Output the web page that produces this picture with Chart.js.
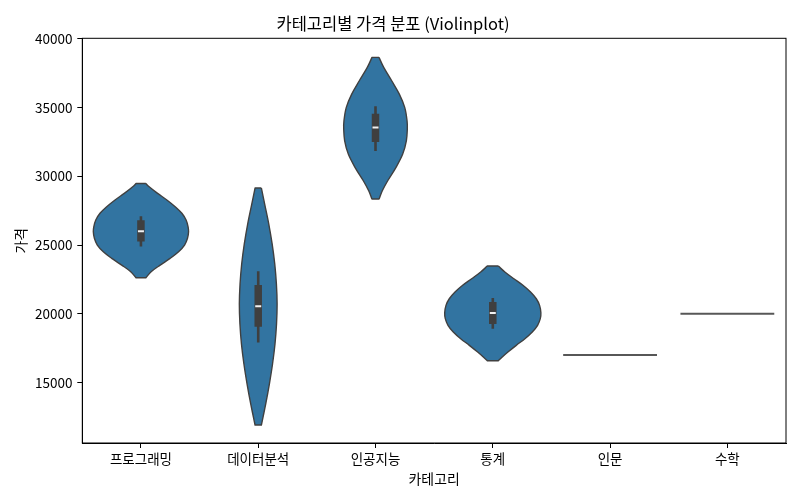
<!DOCTYPE html>
<html>
<head>
<meta charset="utf-8">
<script src="https://cdn.jsdelivr.net/npm/chart.js@4/dist/chart.umd.min.js"></script>
<style>
  html, body { margin: 0; padding: 0; background: #ffffff; }
  #wrap { width: 800px; height: 500px; }
</style>
</head>
<body>
<div id="wrap"><canvas id="c" width="800" height="500"></canvas></div>
<script>
// ---------------- DATA ----------------
const categories = ['프로그래밍', '데이터분석', '인공지능', '통계', '인문', '수학'];
const yTickValues = [15000, 20000, 25000, 30000, 35000, 40000];

// Violin density profiles: price values (top to bottom) and relative half-widths (category units)
const progValues = [29480, 29240, 28760, 28280, 27790, 27310, 26820, 26330, 25970, 25490, 25000, 24510, 24030, 23540, 23060, 22620];
const progDensity = [0.042, 0.070, 0.142, 0.221, 0.292, 0.349, 0.385, 0.402, 0.406, 0.397, 0.372, 0.321, 0.249, 0.164, 0.087, 0.042];

const dataValues = [29150, 27980, 26530, 25070, 23620, 22160, 20710, 19250, 17800, 16340, 14880, 13430, 12480, 11900];
const dataDensity = [0.027, 0.055, 0.090, 0.119, 0.141, 0.155, 0.161, 0.156, 0.143, 0.122, 0.095, 0.064, 0.041, 0.027];

const aiValues = [38660, 37930, 36960, 35990, 35020, 34050, 33440, 32590, 31620, 30660, 29680, 28950, 28350];
const aiDensity = [0.030, 0.070, 0.138, 0.203, 0.249, 0.269, 0.271, 0.263, 0.232, 0.175, 0.104, 0.058, 0.030];

const statValues = [23470, 23040, 22550, 22070, 21580, 21090, 20610, 20070, 19640, 19160, 18670, 18180, 17700, 17210, 16780, 16580];
const statDensity = [0.047, 0.103, 0.180, 0.257, 0.322, 0.371, 0.399, 0.410, 0.405, 0.382, 0.337, 0.274, 0.200, 0.129, 0.072, 0.047];

// Inner box statistics per category (null where only one observation)
const whiskerHigh = [27100, 23100, 35100, 21150, null, null];
const boxQ3       = [26800, 22100, 34550, 20850, null, null];
const medians     = [26000, 20550, 33550, 20050, null, null];
const boxQ1       = [25250, 19050, 32500, 19250, null, null];
const whiskerLow  = [24900, 17900, 31850, 18900, null, null];

// Categories with a single observation
const singleValues = [null, null, null, null, 17000, 20000];
const singleHalfWidth = 0.4;

// ---------------- BUILD DATASETS ----------------
const profiles = [
  { idx: 0, values: progValues, dens: progDensity },
  { idx: 1, values: dataValues, dens: dataDensity },
  { idx: 2, values: aiValues, dens: aiDensity },
  { idx: 3, values: statValues, dens: statDensity }
];

const VIOLIN_FILL = '#3274a1';
const VIOLIN_EDGE = '#404040';
const BOX_COLOR = '#3f3f3f';

// closed outline: right side top->bottom, left side bottom->top.
// End points are repeated so the flat ends keep sharp corners under curve smoothing.
function violinShape(i, values, dens) {
  const right = values.map((v, k) => ({ x: i + dens[k], y: v }));
  const left = values.map((v, k) => ({ x: i - dens[k], y: v })).reverse();
  const n = right.length;
  return [right[0]].concat(right, [right[n - 1]], [left[0]], left, [left[n - 1]], [right[0]]);
}

const datasets = [];
profiles.forEach(p => {
  datasets.push({
    label: categories[p.idx],
    data: violinShape(p.idx, p.values, p.dens),
    showLine: true,
    fill: 'shape',
    backgroundColor: VIOLIN_FILL,
    borderColor: VIOLIN_EDGE,
    borderWidth: 1.4,
    borderJoinStyle: 'round',
    tension: 0.35,
    pointRadius: 0,
    pointHoverRadius: 0,
    order: 10
  });
});

categories.forEach((c, i) => {
  if (whiskerLow[i] !== null) {
    datasets.push({
      label: c + ' whisker',
      data: [{ x: i, y: whiskerLow[i] }, { x: i, y: whiskerHigh[i] }],
      showLine: true, fill: false,
      borderColor: BOX_COLOR, borderWidth: 2.6, borderCapStyle: 'butt',
      pointRadius: 0, order: 5
    });
    datasets.push({
      label: c + ' box',
      data: [{ x: i, y: boxQ1[i] }, { x: i, y: boxQ3[i] }],
      showLine: true, fill: false,
      borderColor: BOX_COLOR, borderWidth: 7.5, borderCapStyle: 'butt',
      pointRadius: 0, order: 4
    });
    datasets.push({
      label: c + ' median',
      data: [{ x: i, y: medians[i] }],
      showLine: false, fill: false,
      pointStyle: 'line', pointRadius: 3, pointBorderWidth: 2,
      pointBorderColor: '#f2f2f2', pointBackgroundColor: '#f2f2f2',
      order: 1
    });
  }
  if (singleValues[i] !== null) {
    datasets.push({
      label: c,
      data: [{ x: i - singleHalfWidth, y: singleValues[i] }, { x: i + singleHalfWidth, y: singleValues[i] }],
      showLine: true, fill: false,
      borderColor: '#575757', borderWidth: 2, borderCapStyle: 'butt',
      pointRadius: 0, order: 6
    });
  }
});

// ---------------- CHART ----------------
const FONT = "'Noto Sans CJK KR', 'Noto Sans', sans-serif";

const framePlugin = {
  id: 'frame',
  afterDatasetsDraw(chart) {
    const a = chart.chartArea;
    const ctx = chart.ctx;
    ctx.save();
    ctx.strokeStyle = '#000000';
    ctx.lineWidth = 1;
    ctx.strokeRect(a.left, a.top, a.right - a.left, a.bottom - a.top);
    ctx.restore();
  }
};

new Chart(document.getElementById('c'), {
  type: 'line',
  data: { datasets },
  plugins: [framePlugin],
  options: {
    responsive: false,
    animation: false,
    devicePixelRatio: 1,
    layout: { padding: { left: 0, right: 14, top: 0, bottom: 0 } },
    plugins: {
      legend: { display: false },
      tooltip: { enabled: false },
      title: {
        display: true,
        text: '카테고리별 가격 분포 (Violinplot)',
        color: '#000000',
        font: { family: FONT, size: 16.5, weight: 'normal' },
        padding: { top: 14, bottom: 4.5 }
      }
    },
    scales: {
      x: {
        type: 'linear',
        min: -0.5,
        max: categories.length - 0.5,
        afterBuildTicks(scale) { scale.ticks = categories.map((c, i) => ({ value: i })); },
        afterFit(scale) { scale.height = 57; },
        ticks: {
          color: '#000000',
          font: { family: FONT, size: 13.5 },
          padding: 3,
          autoSkip: false,
          maxRotation: 0,
          callback: (v) => categories[v]
        },
        grid: { display: true, drawOnChartArea: false, drawTicks: true, tickLength: 5, color: '#000000', tickWidth: 1 },
        border: { display: true, color: '#000000', width: 1 },
        title: {
          display: true, text: '카테고리', color: '#000000',
          font: { family: FONT, size: 13.9 },
          padding: { top: 0, bottom: 13 }
        }
      },
      y: {
        type: 'linear',
        min: 10590,
        max: 40050,
        afterBuildTicks(scale) { scale.ticks = yTickValues.map(v => ({ value: v })); },
        afterFit(scale) { scale.width = 82.3; },
        ticks: {
          color: '#000000',
          font: { family: FONT, size: 13.5 },
          padding: 4.8,
          callback: (v) => String(v)
        },
        grid: { display: true, drawOnChartArea: false, drawTicks: true, tickLength: 5, color: '#000000', tickWidth: 1 },
        border: { display: true, color: '#000000', width: 1 },
        title: {
          display: true, text: '가격', color: '#000000',
          font: { family: FONT, size: 13.9 },
          padding: { top: 12.5, bottom: 0 }
        }
      }
    }
  }
});
</script>
</body>
</html>
